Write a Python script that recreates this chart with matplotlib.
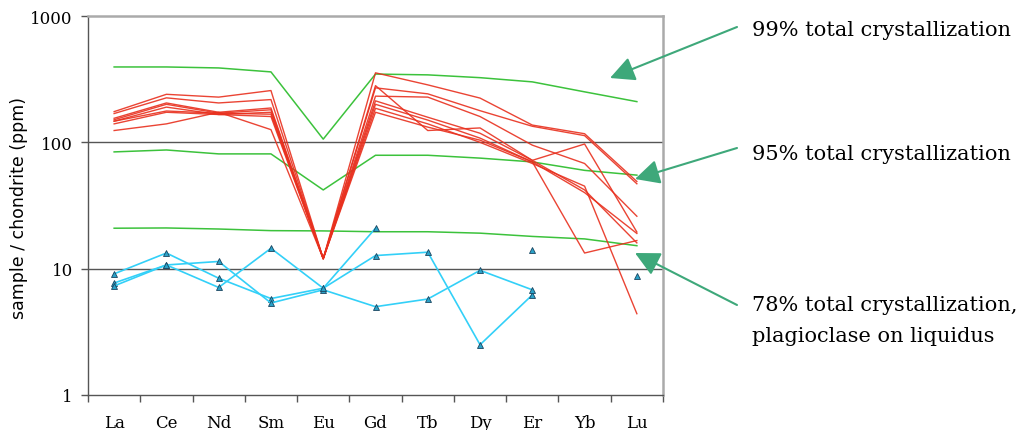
import numpy as np
import matplotlib
matplotlib.use("Agg")
import matplotlib.pyplot as plt
from matplotlib.ticker import FixedLocator, NullFormatter, NullLocator

nan = np.nan
elements = ["La", "Ce", "Nd", "Sm", "Eu", "Gd", "Tb", "Dy", "Er", "Yb", "Lu"]

# model curves (fractional crystallization)
model_99 = [395, 395, 388, 361, 106, 347, 342, 325, 301, 251, 210]
model_95 = [84, 87, 81, 81, 42, 79, 79, 75, 70, 60, 55]
model_78 = [20.9, 21, 20.6, 20, 19.9, 19.6, 19.6, 19.1, 18, 17.2, 15.2]

# red sample patterns
red_1 = [175, 240, 228, 257, 12, 355, 285, 224, 137, 117, 49]
red_2 = [169, 225, 205, 218, 12, 270, 242, 178, 134, 113, 47]
red_3 = [155, 205, 173, 187, 12, 281, 124, 130, 72, 97, 19.5]
red_4 = [151, 200, 170, 181, 12, 232, 228, 160, 95, 68, 26]
red_5 = [147, 190, 166, 173, 12, 213, 158, 118, 72, 42, 16]
red_6 = [147, 177, 170, 167, 12, 200, 150, 108, 70, 13.3, 16.7]
red_7 = [140, 173, 166, 160, 12, 186, 140, 100, 68, 45, 4.4]
red_8 = [124, 140, 173, 126, 12, 173, 132, 104, 70, 40, 19]

# blue sample patterns
blue_1 = [9.1, 13.3, 8.4, 5.8, 7.0, 12.7, 13.5, 2.5, 6.2, nan, nan]
blue_2 = [7.7, 10.7, 11.4, 5.35, 6.8, 5.0, 5.75, 9.7, 6.8, nan, nan]
blue_3 = [7.3, 10.7, 7.1, 14.5, 7.0, 20.9, nan, nan, 14.1, nan, 8.8]

models = [model_99, model_95, model_78]
reds = [red_1, red_2, red_3, red_4, red_5, red_6, red_7, red_8]
blues = [blue_1, blue_2, blue_3]

W, H = 1023, 431
fig = plt.figure(figsize=(W / 100, H / 100), dpi=100)
ax = fig.add_axes([88 / W, 1 - 396 / H, (663 - 88) / W, (396 - 17) / H])

x = np.arange(len(elements))
green = "#3cc23c"
red = "#e8301e"
cyan = "#33d0f8"

for m in models:
    ax.plot(x, m, color=green, lw=1.1, zorder=3)
for r in reds:
    ax.plot(x, r, color=red, lw=1.0, alpha=0.9, zorder=4)
for b in blues:
    ax.plot(x, b, color=cyan, lw=1.2, marker="^", markersize=4.5,
            markerfacecolor="#2aa2c8", markeredgecolor="#1b4560",
            markeredgewidth=0.6, zorder=5)

ax.set_yscale("log")
ax.set_ylim(1, 1000)
ax.set_xlim(-0.5, len(elements) - 0.5)

# grid lines
ax.axhline(100, color="#555555", lw=1.0, zorder=1)
ax.axhline(10, color="#555555", lw=1.0, zorder=1)

for s in ["top", "right"]:
    ax.spines[s].set_color("#aaaaaa")
    ax.spines[s].set_linewidth(1.8)
for s in ["left", "bottom"]:
    ax.spines[s].set_color("#555555")
    ax.spines[s].set_linewidth(1.0)

ax.yaxis.set_major_locator(FixedLocator([1, 10, 100, 1000]))
ax.yaxis.set_minor_locator(NullLocator())
ax.set_yticklabels(["1", "10", "100", "1000"])
ax.tick_params(axis="y", length=5, width=1, color="#555555", pad=6,
               labelsize=12, labelfontfamily="DejaVu Serif")

ax.xaxis.set_major_locator(FixedLocator(np.arange(-0.5, len(elements), 1.0)))
ax.xaxis.set_major_formatter(NullFormatter())
ax.xaxis.set_minor_locator(FixedLocator(x))
ax.set_xticklabels(elements, minor=True)
ax.tick_params(axis="x", which="major", length=5, width=1, color="#555555")
ax.tick_params(axis="x", which="minor", length=0, pad=14, labelsize=12,
               labelfontfamily="DejaVu Serif")

ax.set_ylabel("sample / chondrite (ppm)", fontsize=12.5, family="DejaVu Sans")
ax.yaxis.set_label_coords((28 - 88) / 575, (396 - 208) / 379)

# annotations with arrows (figure pixel coordinates)
arrow_col = "#3ea87a"
def px(xp, yp):
    return (xp / W, 1 - yp / H)

texts = [
    ("99% total crystallization", (752, 30), (737, 28), (610, 79)),
    ("95% total crystallization", (752, 155), (737, 149), (635, 180)),
    ("78% total crystallization,\nplagioclase on liquidus", (752, 321), (737, 306), (635, 254)),
]
for t, tp, start, tip in texts:
    fig.text(*px(*tp), t, fontsize=15, family="DejaVu Serif", va="center",
             ha="left", linespacing=1.8)
    fig.add_artist(matplotlib.patches.FancyArrowPatch(
        px(*start), px(*tip), transform=fig.transFigure,
        arrowstyle="-|>,head_length=1.5,head_width=0.75", mutation_scale=10,
        color=arrow_col, lw=1.5, shrinkA=0, shrinkB=0))

fig.savefig("out.png", dpi=100)
